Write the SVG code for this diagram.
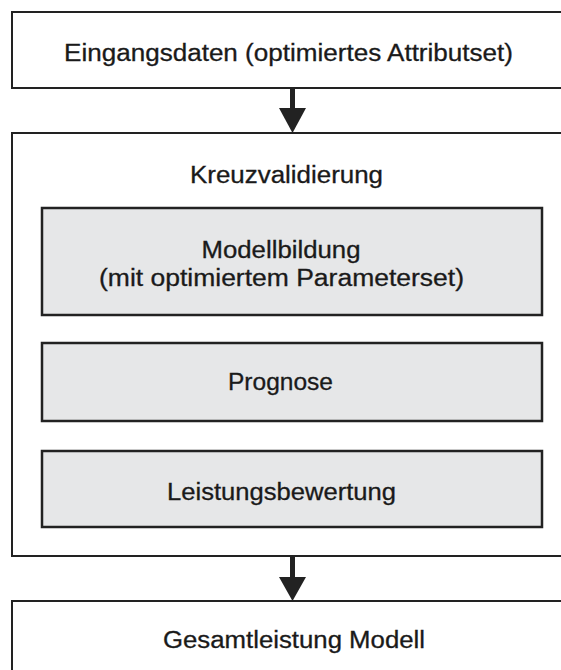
<svg xmlns="http://www.w3.org/2000/svg" width="561" height="670" viewBox="0 0 561 670">
<style>
.box{fill:#ffffff;stroke:#222222;stroke-width:2}
.inner{fill:#e6e7e8;stroke:#222222;stroke-width:2.5}
.t{font-family:"Liberation Sans",Arial,sans-serif;font-size:23px;fill:#1a1a1a;stroke:#1a1a1a;stroke-width:0.3;text-anchor:middle}
.shaft{stroke:#222222;stroke-width:5}
.head{fill:#222222}
</style>
<rect width="561" height="670" fill="#ffffff"/>
<g id="eingang">
<rect class="box" x="12" y="12" width="560" height="76"/>
<text class="t" x="288.5" y="61" textLength="449" lengthAdjust="spacingAndGlyphs">Eingangsdaten (optimiertes Attributset)</text>
</g>
<g id="kreuzvalidierung">
<rect class="box" x="12" y="133" width="560" height="423"/>
<text class="t" x="286.5" y="183" textLength="193" lengthAdjust="spacingAndGlyphs">Kreuzvalidierung</text>
</g>
<g id="modellbildung">
<rect class="inner" x="42" y="208" width="500" height="107"/>
<text class="t" x="281" y="258" textLength="159" lengthAdjust="spacingAndGlyphs">Modellbildung</text>
<text class="t" x="281.5" y="286" textLength="365" lengthAdjust="spacingAndGlyphs">(mit optimiertem Parameterset)</text>
</g>
<g id="prognose">
<rect class="inner" x="42" y="343" width="500" height="78"/>
<text class="t" x="280.5" y="390" textLength="105" lengthAdjust="spacingAndGlyphs">Prognose</text>
</g>
<g id="leistung">
<rect class="inner" x="42" y="451" width="500" height="76"/>
<text class="t" x="281.5" y="500" textLength="229" lengthAdjust="spacingAndGlyphs">Leistungsbewertung</text>
</g>
<g id="gesamt">
<rect class="box" x="12" y="601" width="560" height="90"/>
<text class="t" x="294" y="648" textLength="262" lengthAdjust="spacingAndGlyphs">Gesamtleistung Modell</text>
</g>
<g id="connectors">
<line class="shaft" x1="292.5" y1="89" x2="292.5" y2="110"/>
<polygon class="head" points="279,108 306,108 292.5,133"/>
<line class="shaft" x1="292.5" y1="557" x2="292.5" y2="579"/>
<polygon class="head" points="279,577 306,577 292.5,601"/>
</g>
</svg>
